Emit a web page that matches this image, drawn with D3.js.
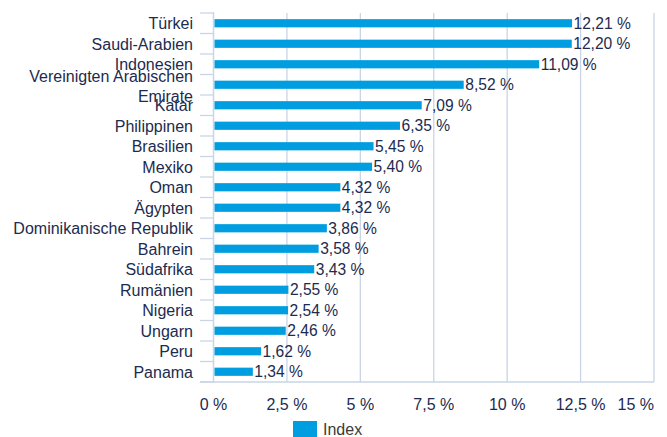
<!DOCTYPE html>
<html><head><meta charset="utf-8">
<script src="https://cdn.jsdelivr.net/npm/d3@7/dist/d3.min.js"></script>
<style>
body{margin:0;background:#fff;}
text{font-family:"Liberation Sans",Arial,Helvetica,sans-serif;}
</style></head>
<body><svg id="c" width="667" height="437"></svg>
<script>
const categories = ["Türkei","Saudi-Arabien","Indonesien","Vereinigten Arabischen Emirate","Katar","Philippinen","Brasilien","Mexiko","Oman","Ägypten","Dominikanische Republik","Bahrein","Südafrika","Rumänien","Nigeria","Ungarn","Peru","Panama"];
const values = [12.21,12.20,11.09,8.52,7.09,6.35,5.45,5.40,4.32,4.32,3.86,3.58,3.43,2.55,2.54,2.46,1.62,1.34];
const tickValues = [0,2.5,5,7.5,10,12.5,15];
const seriesName = "Index";

const svg = d3.select("#c");
const pL = 213.5, pR = 654, pT = 13, pB = 382;
const navy = "#1c2b4f", gridC = "#c9d5e6", barC = "#009ee0";
const fmt = v => d3.format(".2f")(v).replace(".", ",") + " %";
const tfmt = v => String(v).replace(".", ",") + " %";

const x = d3.scaleLinear().domain([0,15]).range([pL,pR]);
const y = d3.scaleBand().domain(categories).range([pT,pB]).paddingInner(0.6).paddingOuter(0.3);
const yb = d3.scaleBand().domain(categories).range([pT,pB]);

// gridlines
svg.append("g").selectAll("line").data(tickValues.slice(1)).join("line")
  .attr("x1", d=>x(d)).attr("x2", d=>x(d)).attr("y1", pT).attr("y2", pB)
  .attr("stroke", gridC).attr("stroke-width", 1.3);

// category ticks (band boundaries)
const bounds = categories.map(c=>yb(c)).concat([pB]);
svg.append("g").selectAll("line").data(bounds).join("line")
  .attr("x1", 200).attr("x2", pL).attr("y1", d=>d).attr("y2", d=>d)
  .attr("stroke", gridC).attr("stroke-width", 1.3);

// axis lines
svg.append("line").attr("x1", pL).attr("x2", pL).attr("y1", pT-1).attr("y2", pB)
  .attr("stroke", gridC).attr("stroke-width", 1.5);
svg.append("line").attr("x1", 200).attr("x2", pR).attr("y1", pB).attr("y2", pB)
  .attr("stroke", gridC).attr("stroke-width", 1.5);

// bars
svg.append("g").selectAll("rect").data(values).join("rect")
  .attr("x", x(0)+1).attr("y", (d,i)=>y(categories[i]))
  .attr("width", d=>x(d)-x(0)-1).attr("height", y.bandwidth())
  .attr("fill", barC);

// value labels
svg.append("g").selectAll("text").data(values).join("text")
  .attr("x", d=>x(d)+1.5).attr("y", (d,i)=>y(categories[i])+y.bandwidth()/2)
  .attr("dy","0.36em").attr("font-size", 15.6).attr("fill", navy)
  .text(d=>fmt(d));

// category labels
const cl = svg.append("g").selectAll("text").data(categories).join("text")
  .attr("x", 193).attr("text-anchor","end")
  .attr("font-size", 16).attr("fill", navy);
cl.each(function(c){
  const t = d3.select(this);
  const cy = y(c)+y.bandwidth()/2;
  if (c === "Vereinigten Arabischen Emirate") {
    t.attr("y", cy-2.5);
    t.append("tspan").attr("x",193).attr("dy","0").text("Vereinigten Arabischen");
    t.append("tspan").attr("x",193).attr("dy","19.5").text("Emirate");
  } else {
    t.attr("y", cy).attr("dy","0.36em").text(c);
  }
});

// x tick labels
svg.append("g").selectAll("text").data(tickValues).join("text")
  .attr("x", d=>x(d))
  .attr("y", 409.5)
  .attr("text-anchor", (d,i)=> i===tickValues.length-1 ? "end" : "middle")
  .attr("font-size", 16).attr("fill", navy)
  .text(d=>tfmt(d));

// legend
svg.append("rect").attr("x", 293).attr("y", 421).attr("width", 24).attr("height", 16).attr("fill", barC);
svg.append("text").attr("x", 323).attr("y", 435).attr("font-size", 16).attr("fill", "#3a3a3a")
  .text(seriesName);
</script></body></html>
